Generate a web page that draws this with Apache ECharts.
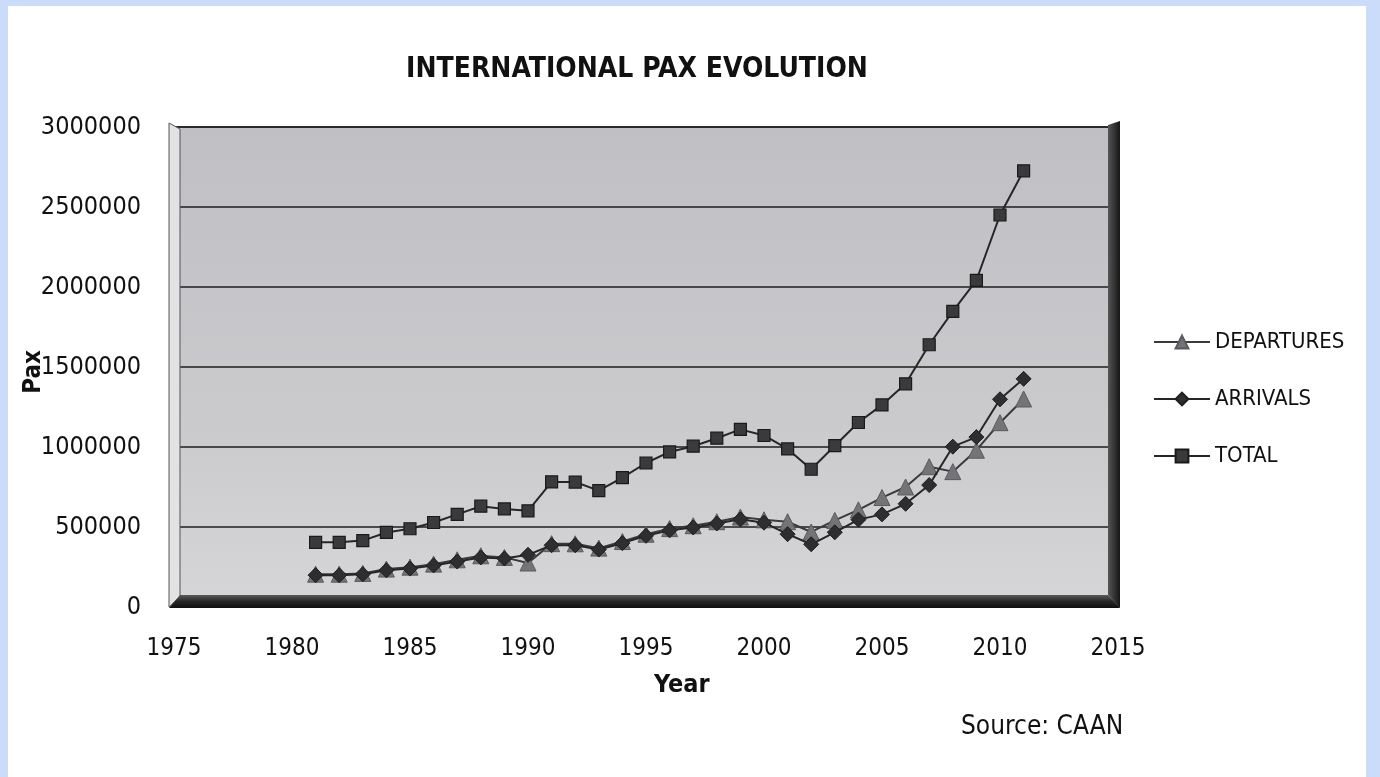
<!DOCTYPE html>
<html>
<head>
<meta charset="utf-8">
<script src="https://cdn.jsdelivr.net/npm/echarts@6/dist/echarts.min.js"></script>
<style>
  html, body { margin: 0; padding: 0; width: 1380px; height: 777px; overflow: hidden; background: #cadcf9; }
  #paper { position: absolute; left: 8px; top: 6px; right: 14px; bottom: 0; background: #ffffff; }
  #chart { position: absolute; left: 0; top: 0; width: 1380px; height: 777px; }
</style>
</head>
<body>
<div id="paper"></div>
<div id="chart"></div>
<script>
// ---- data ----
const years = [1981, 1982, 1983, 1984, 1985, 1986, 1987, 1988, 1989, 1990,
               1991, 1992, 1993, 1994, 1995, 1996, 1997, 1998, 1999, 2000,
               2001, 2002, 2003, 2004, 2005, 2006, 2007, 2008, 2009, 2010, 2011];
const departures = [205000, 205000, 210000, 237000, 249000, 268000, 295000, 320000, 310000, 275000,
                    396000, 395000, 368000, 409000, 455000, 490000, 508000, 533000, 562000, 545000,
                    533000, 469000, 541000, 607000, 684000, 750000, 877000, 846000, 980000, 1152000, 1300000];
const arrivals = [199000, 199000, 205000, 229000, 240000, 260000, 284000, 310000, 303000, 326000,
                  386000, 386000, 359000, 399000, 445000, 479000, 497000, 522000, 548000, 527000,
                  455000, 392000, 467000, 546000, 579000, 645000, 762000, 1002000, 1062000, 1298000, 1426000];
const total = [404000, 404000, 415000, 466000, 489000, 528000, 579000, 630000, 613000, 601000,
               782000, 781000, 727000, 808000, 900000, 969000, 1005000, 1055000, 1110000, 1072000,
               988000, 861000, 1008000, 1153000, 1263000, 1395000, 1639000, 1848000, 2042000, 2450000, 2726000];
const seriesNames = ['DEPARTURES', 'ARRIVALS', 'TOTAL'];
const xTicks = { min: 1975, max: 2015, interval: 5 };
const yTicks = { min: 0, max: 3000000, interval: 500000 };
const titleText = 'INTERNATIONAL PAX EVOLUTION';
const sourceText = 'Source: CAAN';

const FONT = '"DejaVu Sans Condensed", "Liberation Sans Narrow", sans-serif';
const G = { left: 174, right: 262, top: 127, bottom: 170 };
const gx0 = G.left, gx1 = 1380 - G.right, gy0 = G.top, gy1 = 777 - G.bottom;

const pairs = arr => years.map((y, i) => [y, arr[i]]);

const chart = echarts.init(document.getElementById('chart'), null, { renderer: 'canvas' });
chart.setOption({
  backgroundColor: 'transparent',
  animation: false,
  title: {
    text: titleText, left: 632, top: 51, textAlign: 'center',
    textStyle: { fontFamily: FONT, fontSize: 28, fontWeight: 'bold', color: '#111' }
  },
  legend: {
    orient: 'vertical', left: 1148, top: 325, itemWidth: 56, itemHeight: 16, itemGap: 33,
    data: seriesNames,
    textStyle: { fontFamily: FONT, fontSize: 22, color: '#111', lineHeight: 24, padding: [0, 0, 0, 0] }
  },
  grid: {
    left: G.left, right: G.right, top: G.top, bottom: G.bottom,
    show: true, borderColor: '#2a2a2a', borderWidth: 1.5,
    backgroundColor: {
      type: 'linear', x: 0, y: 0, x2: 0, y2: 1,
      colorStops: [{ offset: 0, color: '#c0bfc4' }, { offset: 0.6, color: '#cacacd' }, { offset: 1, color: '#d6d5d8' }]
    }
  },
  xAxis: {
    type: 'value', min: xTicks.min, max: xTicks.max, interval: xTicks.interval,
    axisLine: { show: false }, axisTick: { show: false }, splitLine: { show: false },
    axisLabel: { fontFamily: FONT, fontSize: 24, color: '#111', margin: 30, formatter: v => String(v) }
  },
  yAxis: {
    type: 'value', min: yTicks.min, max: yTicks.max, interval: yTicks.interval,
    axisLine: { show: false }, axisTick: { show: false },
    splitLine: { show: true, lineStyle: { color: '#1e1e1e', width: 1.6 } },
    axisLabel: { fontFamily: FONT, fontSize: 25, color: '#111', margin: 33, formatter: v => String(v) }
  },
  graphic: [
    // left bevel (lighter)
    { type: 'polygon', z: 1, silent: true,
      shape: { points: [[gx0 - 5, gy0 - 4], [gx0 + 6, gy0 + 2], [gx0 + 6, gy1 - 10], [gx0 - 5, gy1]] },
      style: { fill: '#e2e1e4', stroke: '#555', lineWidth: 1 } },
    // right wall edge (dark)
    { type: 'polygon', z: 1, silent: true,
      shape: { points: [[gx1 - 10, gy0 - 2], [gx1 + 2, gy0 - 6], [gx1 + 2, gy1 + 1], [gx1 - 10, gy1 - 12]] },
      style: { fill: { type: 'linear', x: 0, y: 0, x2: 1, y2: 0,
        colorStops: [{ offset: 0, color: '#555' }, { offset: 1, color: '#161616' }] } } },
    // floor (dark)
    { type: 'polygon', z: 1, silent: true,
      shape: { points: [[gx0 + 6, gy1 - 12], [gx1 - 10, gy1 - 12], [gx1 + 2, gy1 + 1], [gx0 - 5, gy1 + 1]] },
      style: { fill: { type: 'linear', x: 0, y: 0, x2: 0, y2: 1,
        colorStops: [{ offset: 0, color: '#5a5a5a' }, { offset: 0.5, color: '#262626' }, { offset: 1, color: '#101010' }] } } },
    { type: 'text', left: 654, top: 673, silent: true,
      style: { text: 'Year', fontFamily: FONT, fontSize: 25, fontWeight: 'bold', fill: '#111' } },
    { type: 'text', left: 22, top: 350, rotation: Math.PI / 2, silent: true,
      style: { text: 'Pax', fontFamily: FONT, fontSize: 24, fontWeight: 'bold', fill: '#111' } },
    { type: 'text', left: 961, top: 714, silent: true,
      style: { text: sourceText, fontFamily: FONT, fontSize: 26, fill: '#111' } }
  ],
  series: [
    { name: seriesNames[0], type: 'line', data: pairs(departures), z: 3,
      symbol: 'triangle', symbolSize: 16,
      lineStyle: { color: '#3a3a3a', width: 2 },
      itemStyle: { color: '#747377', borderColor: '#5a5a5c', borderWidth: 1 } },
    { name: seriesNames[1], type: 'line', data: pairs(arrivals), z: 4,
      symbol: 'diamond', symbolSize: 15,
      lineStyle: { color: '#262626', width: 2 },
      itemStyle: { color: '#2e2e30', borderColor: '#1e1e1e', borderWidth: 1 } },
    { name: seriesNames[2], type: 'line', data: pairs(total), z: 5,
      symbol: 'rect', symbolSize: 12,
      lineStyle: { color: '#262626', width: 2 },
      itemStyle: { color: '#3a3a3c', borderColor: '#1a1a1a', borderWidth: 1.2 } }
  ]
});
</script>
</body>
</html>
